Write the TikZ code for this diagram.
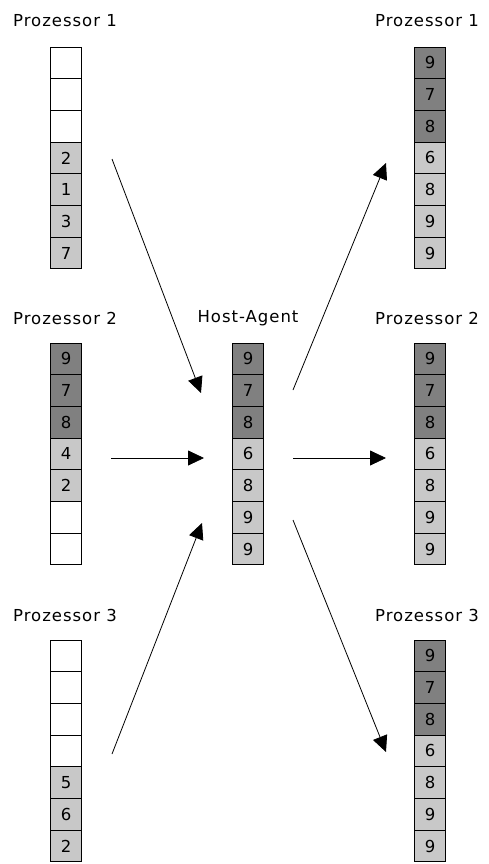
\documentclass[tikz,border=0pt]{standalone}
\usepackage{fontspec}
\setmainfont{DejaVu Sans}[LetterSpace=6]
\usetikzlibrary{arrows.meta}
\definecolor{darkc}{RGB}{128,128,128}
\definecolor{lightc}{RGB}{200,200,200}
\begin{document}
\begin{tikzpicture}[x=1pt,y=-1pt,
  cell/.style={draw=black,line width=0.9pt,minimum width=31pt,minimum height=31.7pt,inner sep=0pt,font=\fontsize{16.5}{16.5}\selectfont},
  emptycell/.style={fill=white},
  lightcell/.style={fill=lightc},
  darkcell/.style={fill=darkc},
  lab/.style={font=\fontsize{16.5}{16.5}\selectfont,inner sep=0pt},
  arr/.style={line width=0.8pt,-{Triangle[length=16pt,width=15pt]}}]
\useasboundingbox (0,0) rectangle (489,864);
% labels
\node[lab] (l1) at (65,21) {Prozessor 1};
\node[lab] (l2) at (65,318) {Prozessor 2};
\node[lab] (l3) at (65,615) {Prozessor 3};
\node[lab] (lh) at (248,318) {Host-Agent};
\node[lab] (r1) at (427,21) {Prozessor 1};
\node[lab] (r2) at (427,318) {Prozessor 2};
\node[lab] (r3) at (427,615) {Prozessor 3};
% columns
\foreach \v/\s [count=\i] in {/emptycell,/emptycell,/emptycell,2/lightcell,1/lightcell,3/lightcell,7/lightcell}
  \node[cell,\s] (pa\i) at (66,{47+15.85+(\i-1)*31.7}) {\v};
\foreach \v/\s [count=\i] in {9/darkcell,7/darkcell,8/darkcell,4/lightcell,2/lightcell,/emptycell,/emptycell}
  \node[cell,\s] (pb\i) at (66,{343+15.85+(\i-1)*31.7}) {\v};
\foreach \v/\s [count=\i] in {/emptycell,/emptycell,/emptycell,/emptycell,5/lightcell,6/lightcell,2/lightcell}
  \node[cell,\s] (pc\i) at (66,{640+15.85+(\i-1)*31.7}) {\v};
\foreach \v/\s [count=\i] in {9/darkcell,7/darkcell,8/darkcell,6/lightcell,8/lightcell,9/lightcell,9/lightcell}
  \node[cell,\s] (h\i) at (248,{343+15.85+(\i-1)*31.7}) {\v};
\foreach \v/\s [count=\i] in {9/darkcell,7/darkcell,8/darkcell,6/lightcell,8/lightcell,9/lightcell,9/lightcell}
  \node[cell,\s] (ra\i) at (430,{47+15.85+(\i-1)*31.7}) {\v};
\foreach \v/\s [count=\i] in {9/darkcell,7/darkcell,8/darkcell,6/lightcell,8/lightcell,9/lightcell,9/lightcell}
  \node[cell,\s] (rb\i) at (430,{343+15.85+(\i-1)*31.7}) {\v};
\foreach \v/\s [count=\i] in {9/darkcell,7/darkcell,8/darkcell,6/lightcell,8/lightcell,9/lightcell,9/lightcell}
  \node[cell,\s] (rc\i) at (430,{640+15.85+(\i-1)*31.7}) {\v};
% arrow end points
\coordinate (a1s) at (112,159);  \coordinate (a1e) at (201,393);
\coordinate (a2s) at (111,458);  \coordinate (a2e) at (204,458);
\coordinate (a3s) at (112,754);  \coordinate (a3e) at (202,523);
\coordinate (b1s) at (293,390);  \coordinate (b1e) at (386,163);
\coordinate (b2s) at (293,458);  \coordinate (b2e) at (386,458);
\coordinate (b3s) at (293,520);  \coordinate (b3e) at (386,752);
\draw[arr] (a1s) -- (a1e);
\draw[arr] (a2s) -- (a2e);
\draw[arr] (a3s) -- (a3e);
\draw[arr] (b1s) -- (b1e);
\draw[arr] (b2s) -- (b2e);
\draw[arr] (b3s) -- (b3e);
\end{tikzpicture}
\end{document}
